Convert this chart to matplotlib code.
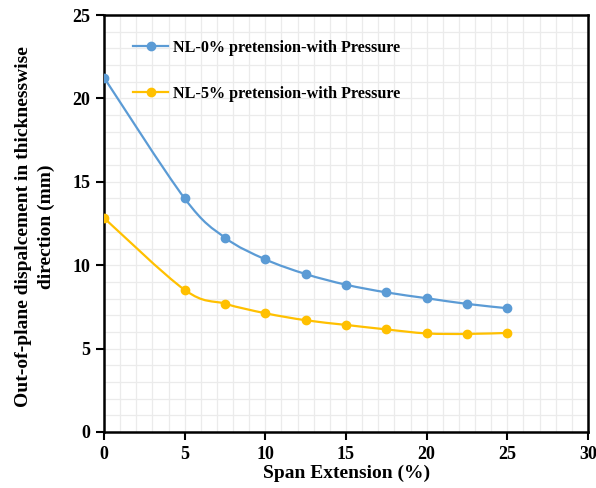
import numpy as np
import matplotlib
matplotlib.use('Agg')
import matplotlib.pyplot as plt
from matplotlib.path import Path
from matplotlib.patches import PathPatch
from matplotlib.lines import Line2D
from matplotlib.ticker import MultipleLocator

span = [0, 5, 7.5, 10, 12.5, 15, 17.5, 20, 22.5, 25]
nl0 = [21.25, 14.0, 11.65, 10.35, 9.47, 8.83, 8.37, 8.02, 7.68, 7.42]
nl5 = [12.83, 8.52, 7.69, 7.12, 6.7, 6.42, 6.15, 5.91, 5.88, 5.94]

labels = ['NL-0% pretension-with Pressure', 'NL-5% pretension-with Pressure']
colors = ['#5B9BD5', '#FFC000']

plt.rcParams['font.family'] = ['Liberation Serif', 'DejaVu Serif']
plt.rcParams['font.weight'] = 'bold'


def smooth_path(x, y):
    # Excel-style smoothed line: cubic bezier segments between points
    x = np.asarray(x, float)
    y = np.asarray(y, float)
    n = len(x)
    verts = [(x[0], y[0])]
    codes = [Path.MOVETO]
    for i in range(n - 1):
        x0, y0 = (x[i - 1], y[i - 1]) if i > 0 else (x[i], y[i])
        x3, y3 = (x[i + 2], y[i + 2]) if i + 2 < n else (x[i + 1], y[i + 1])
        c1 = (x[i] + (x[i + 1] - x0) / 6, y[i] + (y[i + 1] - y0) / 6)
        c2 = (x[i + 1] - (x3 - x[i]) / 6, y[i + 1] - (y3 - y[i]) / 6)
        verts += [c1, c2, (x[i + 1], y[i + 1])]
        codes += [Path.CURVE4] * 3
    return Path(verts, codes)


fig = plt.figure(figsize=(5.96, 4.88), dpi=100)
ax = fig.add_axes([104 / 596, 56 / 488, 484 / 596, 417 / 488])

handles = []
for ys, c, lab in zip([nl0, nl5], colors, labels):
    ax.add_patch(PathPatch(smooth_path(span, ys), facecolor='none', edgecolor=c, lw=1.6, zorder=3))
    ax.plot(span, ys, linestyle='none', marker='o', ms=6, color=c, zorder=4)
    handles.append(Line2D([], [], color=c, lw=1.6, marker='o', ms=6, label=lab))

ax.set_xlim(0, 30)
ax.set_ylim(0, 25)
ax.xaxis.set_major_locator(MultipleLocator(5))
ax.yaxis.set_major_locator(MultipleLocator(5))
ax.xaxis.set_minor_locator(MultipleLocator(1))
ax.yaxis.set_minor_locator(MultipleLocator(1))
ax.grid(True, which='both', color='#EBEBEB', lw=0.9, zorder=0)
ax.set_axisbelow(True)
ax.tick_params(which='minor', length=0)
ax.tick_params(which='major', direction='out', length=6, width=1.5, labelsize=13, pad=4)
for s in ax.spines.values():
    s.set_linewidth(1.8)
    s.set_color('black')

fig.text(347 / 596, 1 - 473 / 488, 'Span Extension (%)', fontsize=14, fontweight='bold',
         ha='center', va='center')
fig.text(35 / 596, 1 - 227 / 488, 'Out-of-plane dispalcement in thicknesswise\ndirection (mm)',
         fontsize=14, fontweight='bold', rotation=90, ha='center', va='center',
         multialignment='center', linespacing=1.4)

ax.legend(handles=handles, loc='upper left', bbox_to_anchor=(0.03, 0.975), frameon=False,
          fontsize=11.6, labelspacing=1.85, handlelength=2.2, handletextpad=0.3)

fig.savefig('out.png', dpi=100)
